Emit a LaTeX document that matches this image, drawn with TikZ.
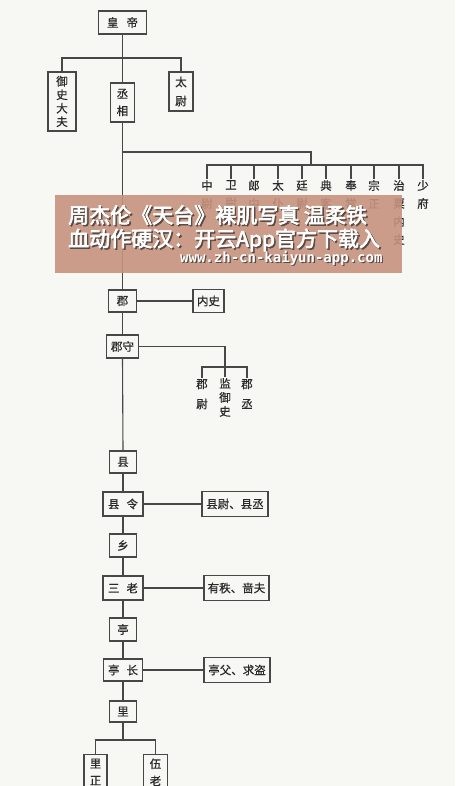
\documentclass[tikz,border=0pt]{standalone}
\usepackage{fontspec}
\newfontfamily\cjk[FakeBold=0.6]{Noto Sans CJK SC}
\newfontfamily\cjkb[FakeBold=3]{Noto Sans CJK SC}
\newfontfamily\urlf{DejaVu Sans Mono}
\definecolor{bgc}{HTML}{F7F8F4}
\definecolor{linec}{HTML}{474747}
\definecolor{txtc}{HTML}{2A2A2A}
\definecolor{bannerc}{HTML}{C6927E}
\definecolor{shadc}{HTML}{5A4A44}
\tikzset{
  ln/.style={draw=linec, line width=1.1pt},
  box/.style={draw=linec, line width=1.1pt, fill=bgc, inner sep=1pt, text=txtc,
    align=center, font=\cjk\fontsize{11.5}{13}\selectfont},
  col/.style={inner sep=1pt, text=txtc, align=center, anchor=north,
    font=\cjk\fontsize{11.5}{18}\selectfont},
  btxt/.style={inner sep=0pt, anchor=west, font=\cjkb\fontsize{21}{22}\selectfont},
  utxt/.style={inner sep=0pt, anchor=west, font=\urlf\bfseries\fontsize{14}{16}\selectfont}
}
\begin{document}
\begin{tikzpicture}[x=1pt,y=-1pt]
\clip (0,0) rectangle (455,786);
\fill[bgc] (0,0) rectangle (455,786);
\useasboundingbox (0,0) rectangle (455,786);

% top level
\node[box, minimum width=48pt, minimum height=23pt] (hd) at (122.5,22.5) {皇\hspace{8pt}帝};
\node[box, minimum width=28pt, minimum height=59pt, font=\cjk\fontsize{11.5}{13.5}\selectfont] (ys) at (62,101.5) {御\\史\\大\\夫};
\node[box, minimum width=24pt, minimum height=39pt, font=\cjk\fontsize{11.5}{17}\selectfont] (cx) at (122.5,102.5) {丞\\相};
\node[box, minimum width=24pt, minimum height=39pt, font=\cjk\fontsize{11.5}{19}\selectfont] (tw) at (181,91.5) {太\\尉};
\coordinate (t) at (122.5,58);
\draw[ln] (hd.south) -- (t);
\draw[ln] (ys.north) |- (t) -| (tw.north);
\draw[ln] (t) -- (cx.north);

% nine ministers
\node[col] (c1) at (207,179) {中\\尉};
\node[col] (c2) at (231,179) {卫\\尉};
\node[col] (c3) at (254,179) {郎\\中};
\node[col] (c4) at (278,179) {太\\仆};
\node[col] (c5) at (302,179) {廷\\尉};
\node[col] (c6) at (326,179) {典\\客};
\node[col] (c7) at (351,179) {奉\\常};
\node[col] (c8) at (374,179) {宗\\正};
\node[col] (c9) at (399,179) {治\\粟\\内\\史};
\node[col] (c10) at (423,179) {少\\府};
\coordinate (b1) at (122.5,152);
\coordinate (b2) at (311,165);
\draw[ln] (b1) -| (b2);
\draw[ln] (c1.north) |- (b2) -| (c10.north);
\foreach \i in {2,...,9} { \draw[ln] (c\i.north) -- (c\i.north |- b2); }

% commandery
\node[box, minimum width=28pt, minimum height=22pt] (jun) at (122.5,301) {郡};
\node[box, minimum width=31pt, minimum height=23pt] (ns) at (208.5,301) {内史};
\node[box, minimum width=32pt, minimum height=23pt] (js) at (122.5,346.5) {郡守};
\draw[ln] (cx.south) -- (jun.north);
\draw[ln] (jun.east) -- (ns.west);
\draw[ln] (jun.south) -- (js.north);
\node[col, font=\cjk\fontsize{11.5}{20}\selectfont] (k1) at (202,378) {郡\\尉};
\node[col, font=\cjk\fontsize{11.5}{14}\selectfont] (k2) at (225,377) {监\\御\\史};
\node[col, font=\cjk\fontsize{11.5}{20}\selectfont] (k3) at (247,378) {郡\\丞};
\coordinate (jb) at (225,367);
\draw[ln] (js.east) -| (jb);
\draw[ln] (k1.north) |- (jb) -| (k3.north);
\draw[ln] (jb) -- (k2.north);

% county
\node[box, minimum width=27pt, minimum height=22pt] (xian) at (123,462) {县};
\node[box, minimum width=40pt, minimum height=24pt] (xl) at (123,504) {县\hspace{7pt}令};
\node[box, minimum width=66pt, minimum height=25pt] (xw) at (235,504) {县尉、县丞};
\node[box, minimum width=27pt, minimum height=23pt] (xiang) at (123,545.5) {乡};
\node[box, minimum width=40pt, minimum height=24pt] (sl) at (123,588) {三\hspace{7pt}老};
\node[box, minimum width=65pt, minimum height=25pt] (yz) at (236.5,588) {有秩、啬夫};
\node[box, minimum width=27pt, minimum height=23pt] (ting) at (123,629.5) {亭};
\node[box, minimum width=39pt, minimum height=22pt] (tz) at (123,670) {亭\hspace{7pt}长};
\node[box, minimum width=66pt, minimum height=25pt] (tf) at (237,670) {亭父、求盗};
\node[box, minimum width=27pt, minimum height=21pt] (li) at (123,711.5) {里};
\draw[ln] (js.south) -- (xian.north);
\draw[ln] (xian.south) -- (xl.north);
\draw[ln] (xl.east) -- (xw.west);
\draw[ln] (xl.south) -- (xiang.north);
\draw[ln] (xiang.south) -- (sl.north);
\draw[ln] (sl.east) -- (yz.west);
\draw[ln] (sl.south) -- (ting.north);
\draw[ln] (ting.south) -- (tz.north);
\draw[ln] (tz.east) -- (tf.west);
\draw[ln] (tz.south) -- (li.north);

% village
\node[box, anchor=north, minimum width=23pt, inner ysep=4pt, font=\cjk\fontsize{11.5}{17}\selectfont] (lz) at (95.5,754) {里\\正};
\node[box, anchor=north, minimum width=24pt, inner ysep=4pt, font=\cjk\fontsize{11.5}{17}\selectfont] (wl) at (155.5,754) {伍\\老};
\coordinate (lb) at (123,740);
\draw[ln] (li.south) -- (lb);
\draw[ln] (lz.north) |- (lb) -| (wl.north);

% overlay banner
\fill[bannerc, fill opacity=0.9] (55,195) rectangle (402,273);
\node[btxt, text=shadc] at (69.5,216.5) {周杰伦《天台》裸肌写真 温柔铁};
\node[btxt, text=white] (bt1) at (68,215) {周杰伦《天台》裸肌写真 温柔铁};
\node[btxt, text=shadc] at (69.5,241.5) {血动作硬汉：开云App官方下载入};
\node[btxt, text=white] (bt2) at (68,240) {血动作硬汉：开云App官方下载入};
\node[utxt, text=shadc] at (181.2,259.2) {www.zh-cn-kaiyun-app.com};
\node[utxt, text=white] (bt3) at (180,258) {www.zh-cn-kaiyun-app.com};
\end{tikzpicture}
\end{document}
